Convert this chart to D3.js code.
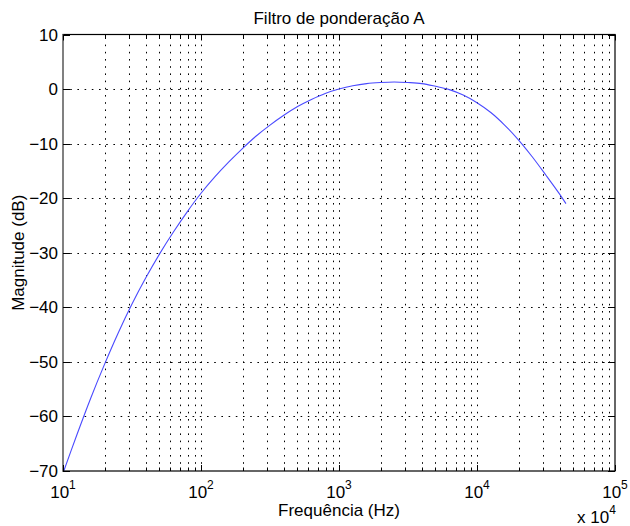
<!DOCTYPE html>
<html><head><meta charset="utf-8">
<script src="https://cdn.jsdelivr.net/npm/d3@7"></script>
<style>
body{margin:0;background:#fff;}
svg text{font-family:"Liberation Sans",Arial,sans-serif;fill:#000;}
</style></head>
<body><svg id="c" width="630" height="526"></svg>
<script>
const title = "Filtro de ponderação A";
const xLabel = "Frequência (Hz)";
const yLabel = "Magnitude (dB)";
const freqs = [10,12.59,15.85,19.95,25.12,31.62,39.81,50.12,63.10,79.43,100,125.9,158.5,199.5,251.2,316.2,398.1,501.2,631.0,794.3,1000,1259,1585,1995,2512,3162,3981,5012,6310,7943,10000,12589,15849,19953,25119,31623,39811,44100];
const magnitudes = [-70.4,-63.4,-56.7,-50.5,-44.7,-39.4,-34.6,-30.2,-26.2,-22.5,-19.1,-16.1,-13.4,-10.9,-8.6,-6.6,-4.8,-3.2,-1.9,-0.8,0.0,0.6,1.0,1.2,1.3,1.2,1.0,0.5,-0.1,-1.1,-2.5,-4.3,-6.6,-9.3,-12.4,-15.8,-19.3,-21.0];
const xTickExps = [1,2,3,4,5];
const yTicks = [10,0,-10,-20,-30,-40,-50,-60,-70];

const svg = d3.select("#c");
const L=63, R=615, T=34.5, B=471;
const x = d3.scaleLog().domain([10,1e5]).range([L,R]);
const y = d3.scaleLinear().domain([-70,10]).range([B,T]);

svg.append("defs").append("clipPath").attr("id","clip").append("rect")
 .attr("x",L).attr("y",T).attr("width",R-L).attr("height",B-T);

const minorX = [];
for (let e=1;e<5;e++) for (let k=2;k<=9;k++) minorX.push(k*Math.pow(10,e));
const majorX = xTickExps.map(e=>Math.pow(10,e));

const g = svg.append("g");
const dash = "1.6,5.6";
// grid
g.selectAll(".vg").data(minorX.concat(majorX.slice(1,-1))).enter().append("line")
 .attr("x1",d=>Math.round(x(d))+0.5).attr("x2",d=>Math.round(x(d))+0.5)
 .attr("y1",B).attr("y2",T).attr("stroke","#000").attr("stroke-width",1)
 .attr("stroke-dasharray",dash);
g.selectAll(".hg").data(yTicks.slice(1,-1)).enter().append("line")
 .attr("y1",d=>Math.round(y(d))+0.5).attr("y2",d=>Math.round(y(d))+0.5)
 .attr("x1",L).attr("x2",R).attr("stroke","#000").attr("stroke-width",1)
 .attr("stroke-dasharray",dash);

// curve
const line = d3.line().x((d,i)=>x(freqs[i])).y(d=>y(d)).curve(d3.curveCatmullRom.alpha(0.5));
g.append("path").datum(magnitudes).attr("d",line).attr("fill","none")
 .attr("clip-path","url(#clip)")
 .attr("stroke","#4a4aff").attr("stroke-width",1.1);

// frame
g.append("rect").attr("x",L).attr("y",T).attr("width",R-L).attr("height",B-T)
 .attr("fill","none").attr("stroke","#000").attr("stroke-width",1.2);
g.append("line").attr("x1",L).attr("x2",L).attr("y1",T).attr("y2",B+0.6)
 .attr("stroke","#808080").attr("stroke-width",2);

// tick marks
const tk = [];
majorX.forEach(d=>tk.push({x:x(d),len:6}));
minorX.forEach(d=>tk.push({x:x(d),len:3.5}));
tk.forEach(t=>{
  const xx=Math.round(t.x)+0.5;
  g.append("line").attr("x1",xx).attr("x2",xx).attr("y1",B).attr("y2",B-t.len).attr("stroke","#000");
  g.append("line").attr("x1",xx).attr("x2",xx).attr("y1",T).attr("y2",T+t.len).attr("stroke","#000");
});
yTicks.forEach(d=>{
  const yy=Math.round(y(d))+0.5;
  g.append("line").attr("x1",L).attr("x2",L+7).attr("y1",yy).attr("y2",yy).attr("stroke","#000");
  g.append("line").attr("x1",R).attr("x2",R-7).attr("y1",yy).attr("y2",yy).attr("stroke","#000");
});

// y tick labels
g.selectAll(".yl").data(yTicks).enter().append("text")
 .attr("x",L-5).attr("y",d=>y(d)+6).attr("text-anchor","end").attr("font-size",17)
 .text(d=>d<0?"\u2212"+Math.abs(d):d);

// x tick labels
xTickExps.forEach(e=>{
  const t = g.append("text").attr("x",x(Math.pow(10,e))).attr("y",498)
   .attr("text-anchor","middle").attr("font-size",17);
  t.append("tspan").text("10");
  t.append("tspan").attr("dy",-9).attr("font-size",12).text(e);
});

// multiplier
const m = g.append("text").attr("x",577).attr("y",523).attr("font-size",17);
m.append("tspan").text("x 10");
m.append("tspan").attr("dy",-9).attr("font-size",12).text("4");

// title & labels
g.append("text").attr("x",(L+R)/2).attr("y",24).attr("text-anchor","middle").attr("font-size",17).text(title);
g.append("text").attr("x",(L+R)/2).attr("y",516).attr("text-anchor","middle").attr("font-size",17).text(xLabel);
g.append("text").attr("transform",`translate(24,${(T+B)/2}) rotate(-90)`).attr("text-anchor","middle").attr("font-size",17).text(yLabel);
</script></body></html>
